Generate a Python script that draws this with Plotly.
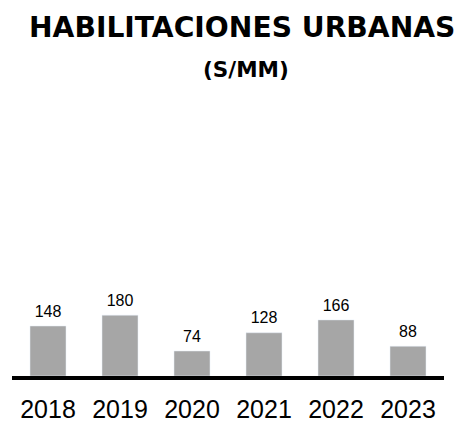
import plotly.graph_objects as go

years = ["2018", "2019", "2020", "2021", "2022", "2023"]
values = [148, 180, 74, 128, 166, 88]

title_text = "HABILITACIONES URBANAS"
subtitle_text = "(S/MM)"

fig = go.Figure()
fig.add_trace(
    go.Bar(
        x=years,
        y=values,
        marker_color="#A6A6A6",
        hoverinfo="x+y",
    )
)
# value labels sitting just above each bar
fig.add_trace(
    go.Scatter(
        x=years,
        y=values,
        mode="markers+text",
        text=[str(v) for v in values],
        textposition="top center",
        marker=dict(size=7, color="rgba(0,0,0,0)"),
        textfont=dict(family="Liberation Sans, Arial", size=16, color="#000000"),
        hoverinfo="skip",
        cliponaxis=False,
    )
)

fig.add_annotation(
    text="<b>" + title_text + "</b>", x=246 / 462, y=1.0, xref="paper", yref="paper",
    xanchor="center", yshift=100 - 27, showarrow=False, yanchor="middle",
    font=dict(family="DejaVu Sans", size=28.2, color="#000000"),
)
fig.add_annotation(
    text="<b>" + subtitle_text + "</b>", x=250 / 462, y=1.0, xref="paper", yref="paper",
    xanchor="center", yshift=100 - 69, showarrow=False, yanchor="middle",
    font=dict(family="DejaVu Sans", size=21.5, color="#000000"),
)

fig.update_layout(
    width=462,
    height=421,
    margin=dict(l=12, r=18, t=100, b=45, autoexpand=False),
    paper_bgcolor="white",
    plot_bgcolor="white",
    bargap=0.5,
    showlegend=False,
    xaxis=dict(
        type="category", automargin=False,
        showline=True, linecolor="#000000", linewidth=4,
        showgrid=False, ticks="", ticklabelstandoff=8,
        tickfont=dict(family="Liberation Sans, Arial", size=25, color="#000000"),
    ),
    yaxis=dict(range=[0, 817], visible=False),
)

fig.write_html(
    "out.html",
    config={"displayModeBar": False},
    post_script="document.body.style.margin = '0';",
)
